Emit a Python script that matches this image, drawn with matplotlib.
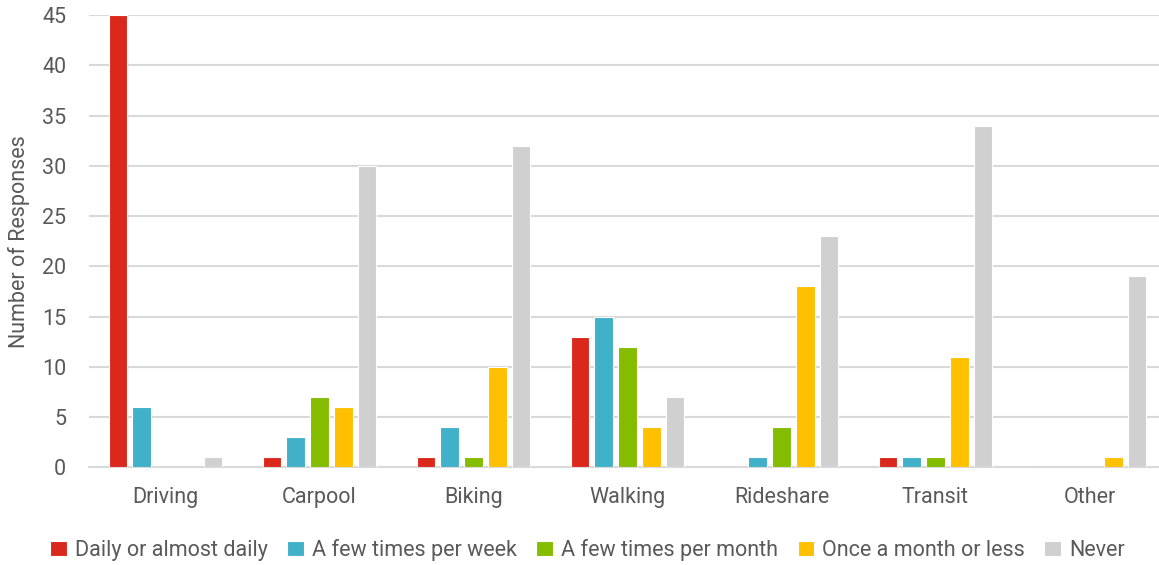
import numpy as np
import matplotlib.pyplot as plt

plt.rcParams['font.family'] = ['Roboto', 'DejaVu Sans']

# Survey counts per travel mode
modes = ['Driving', 'Carpool', 'Biking', 'Walking', 'Rideshare', 'Transit', 'Other']
freq_labels = ['Daily or almost daily', 'A few times per week', 'A few times per month',
               'Once a month or less', 'Never']
daily = [45, 1, 1, 13, 0, 1, 0]
weekly = [6, 3, 4, 15, 1, 1, 0]
monthly = [0, 7, 1, 12, 4, 1, 0]
rarely = [0, 6, 10, 4, 18, 11, 1]
never = [1, 30, 32, 7, 23, 34, 19]
colors = ['#DA291C', '#41B0C9', '#84BD00', '#FFC000', '#D0D0D0']

series = [daily, weekly, monthly, rarely, never]
txt = '#595959'
fs = 15.5

fig = plt.figure(figsize=(11.59, 5.65), dpi=100)
ax = fig.add_axes([88.5 / 1159, 97.7 / 565, 1078 / 1159, 452.3 / 565])

x = np.arange(len(modes))
pitch = 0.154
width = 0.122
for i, vals in enumerate(series):
    ax.bar(x + (i - 2) * pitch, vals, width, color=colors[i], edgecolor='white',
           linewidth=0.8, label=freq_labels[i], zorder=3)

ax.set_xlim(-0.5, len(modes) - 0.5)
ax.set_ylim(0, 45)
ax.set_yticks(range(0, 46, 5))
ax.set_xticks(x)
ax.set_xticklabels(modes)
ax.yaxis.grid(True, color='#D9D9D9', linewidth=1.5, zorder=0)
ax.set_axisbelow(True)
for s in ['top', 'right', 'left']:
    ax.spines[s].set_visible(False)
ax.spines['bottom'].set_color('#D9D9D9')
ax.spines['bottom'].set_linewidth(1.5)
ax.tick_params(axis='both', length=0, labelsize=fs, colors=txt)
ax.tick_params(axis='x', pad=14)
ax.tick_params(axis='y', pad=16)
ax.set_ylabel('Number of Responses', fontsize=fs, color=txt, labelpad=9)

fig.legend(loc='center', bbox_to_anchor=(0.507, 15 / 565), ncol=5,
           frameon=False, fontsize=fs, labelcolor=txt, handlelength=0.75,
           handleheight=0.75, handletextpad=0.4, columnspacing=0.9)

fig.savefig('out.png', dpi=100)
